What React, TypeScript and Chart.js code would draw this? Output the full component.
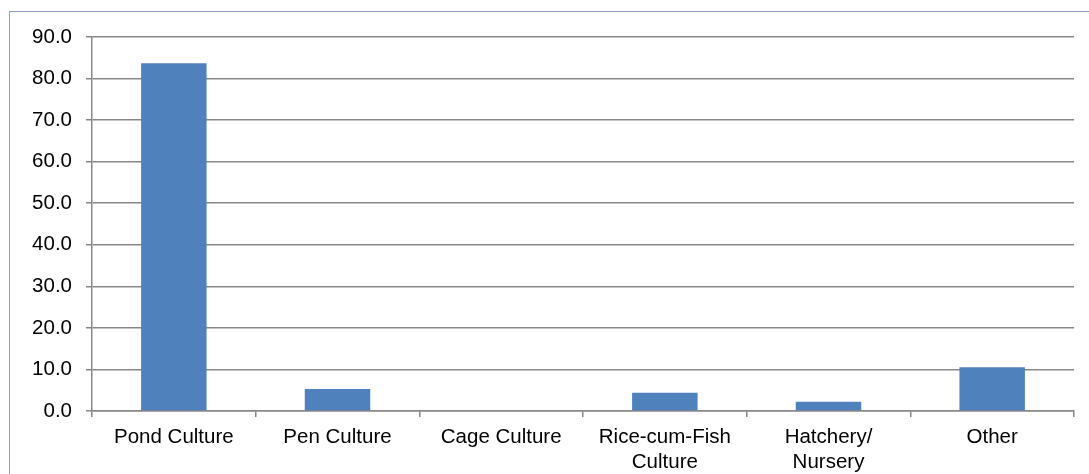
import React, { useEffect, useRef } from "react";
import { Chart, registerables } from "chart.js";

Chart.register(...registerables);

const categories: (string | string[])[] = [
  "Pond Culture",
  "Pen Culture",
  "Cage Culture",
  ["Rice-cum-Fish", "Culture"],
  ["Hatchery/", "Nursery"],
  "Other",
];
const values: number[] = [83.7, 5.3, 0, 4.4, 2.2, 10.5];
const yTicks: number[] = [0, 10, 20, 30, 40, 50, 60, 70, 80, 90];

export default function App() {
  const ref = useRef<HTMLCanvasElement | null>(null);
  useEffect(() => {
    document.body.style.margin = "0";
    document.body.style.overflow = "hidden";
    const ctx = ref.current!;
    const font = { family: "'Liberation Sans', Arial, sans-serif", size: 20.5, lineHeight: 1.22 };
    const chart = new Chart(ctx, {
      type: "bar",
      data: {
        labels: categories,
        datasets: [
          {
            data: values,
            backgroundColor: "#4F81BD",
            borderWidth: 0,
            barPercentage: 0.4,
            categoryPercentage: 1,
          },
        ],
      },
      options: {
        responsive: false,
        animation: false,
        layout: { padding: { top: 37, right: 15, left: 0, bottom: 0 } },
        plugins: { legend: { display: false }, tooltip: { enabled: false } },
        scales: {
          x: {
            offset: true,
            grid: {
              offset: true,
              drawOnChartArea: false,
              drawTicks: true,
              tickLength: 6,
              color: "#888888",
              lineWidth: 1.5,
            },
            border: { display: true, color: "#888888", width: 1.5 },
            ticks: { color: "#000000", font, padding: 8, maxRotation: 0, autoSkip: false },
            afterFit: (s: any) => {
              s.height = 63;
            },
          },
          y: {
            min: 0,
            max: 90,
            afterBuildTicks: (s: any) => {
              s.ticks = yTicks.map((v) => ({ value: v }));
            },
            grid: {
              color: "#888888",
              lineWidth: 1.5,
              drawTicks: true,
              tickLength: 6,
            },
            border: { display: true, color: "#888888", width: 1.5 },
            ticks: {
              color: "#000000",
              font,
              padding: 14,
              callback: (v: any) => Number(v).toFixed(1),
            },
            afterFit: (s: any) => {
              s.width = 92;
            },
          },
        },
      },
    });
    return () => chart.destroy();
  }, []);
  return (
    <div style={{ position: "relative", width: 1089, height: 474, overflow: "hidden", background: "#fff" }}>
      <canvas ref={ref} width={1089} height={474} style={{ position: "absolute", left: 0, top: 0 }} />
      <div
        style={{
          position: "absolute",
          left: 9,
          top: 11,
          width: 1100,
          height: 500,
          borderTop: "1px solid #8C9DC4",
          borderLeft: "1px solid #8C9DC4",
          pointerEvents: "none",
        }}
      />
    </div>
  );
}
